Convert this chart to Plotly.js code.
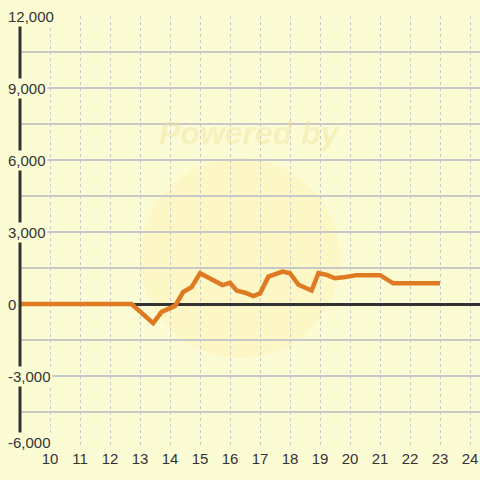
<!DOCTYPE html>
<html>
<head>
<meta charset="utf-8">
<script src="https://cdn.plot.ly/plotly-3.0.1.min.js"></script>
<style>
html,body{margin:0;padding:0;background:#FCFCD4;}
#chart{width:480px;height:480px;}
</style>
</head>
<body>
<div id="chart"></div>
<script>
// Data (hour of day, value)
const hours = [9, 10, 11, 12, 12.72, 13.44, 13.72, 14.17, 14.44, 14.72, 15.0, 15.75, 16.0, 16.22, 16.5, 16.78, 17.0, 17.28, 17.75, 18.0, 18.28, 18.72, 18.95, 19.2, 19.5, 19.78, 20.2, 21.0, 21.44, 22.0, 23.0];
const values = [0, 0, 0, 0, 0, -800, -330, -80, 500, 700, 1280, 790, 880, 560, 470, 330, 440, 1140, 1350, 1280, 800, 560, 1290, 1220, 1070, 1110, 1200, 1200, 860, 860, 860];
const xTickVals = [10, 11, 12, 13, 14, 15, 16, 17, 18, 19, 20, 21, 22, 23, 24];
const yLabelVals = [12000, 9000, 6000, 3000, 0, -3000, -6000];
const yGridVals = [12000, 10500, 9000, 7500, 6000, 4500, 3000, 1500, 0, -1500, -3000, -4500, -6000];

const BG = '#FCFCD4';
const FONT = 'Liberation Sans, Arial, sans-serif';

const trace = {
  x: hours, y: values, type: 'scatter', mode: 'lines',
  line: {color: '#E07A22', width: 4.5, shape: 'linear'},
  hoverinfo: 'skip'
};

const yMin = Math.min(...yLabelVals);
const annotations = yLabelVals.map(v => ({
  x: 0, xref: 'paper', y: v, yref: 'y',
  xanchor: 'left', yanchor: 'middle', xshift: -14,
  yshift: v === yMin ? 6 : 0,
  text: v.toLocaleString('en-US'), showarrow: false,
  font: {family: FONT, size: 15, color: '#333333'},
  bgcolor: BG, borderpad: 1
}));
annotations.push({
  x: 0.5, xref: 'paper', y: (448 - 133) / 432, yref: 'paper', yanchor: 'middle',
  text: '<b><i>Powered by</i></b>', showarrow: false,
  font: {family: FONT, size: 32, color: 'rgba(238,222,150,0.4)'}
});

const layout = {
  width: 480, height: 480,
  margin: {l: 20, r: 0, t: 16, b: 32, pad: 0},
  paper_bgcolor: BG, plot_bgcolor: BG,
  showlegend: false,
  font: {family: FONT, size: 15, color: '#333333'},
  xaxis: {
    range: [9, 24.333], tickvals: xTickVals, ticktext: xTickVals.map(String),
    showgrid: true, gridcolor: '#C8C8C8', gridwidth: 1, griddash: '3px,3px',
    zeroline: false, showline: false, ticks: '',
    tickfont: {family: FONT, size: 15, color: '#333333'}
  },
  yaxis: {
    range: [-6000, 12000], tickvals: yGridVals, showticklabels: false,
    showgrid: true, gridcolor: '#C8C8C8', gridwidth: 1.5,
    zeroline: true, zerolinecolor: '#333333', zerolinewidth: 3,
    showline: false, ticks: ''
  },
  shapes: [
    {type: 'circle', xref: 'x', yref: 'y', x0: 13.0, x1: 19.67, y0: -2250, y1: 6080,
     fillcolor: 'rgba(255,222,100,0.14)', line: {width: 0}, layer: 'below'},
    {type: 'line', xref: 'paper', yref: 'paper', x0: 0, x1: 0, y0: 0, y1: 1,
     line: {color: '#333333', width: 3}, layer: 'above'}
  ],
  annotations: annotations
};

Plotly.newPlot('chart', [trace], layout, {staticPlot: true, displayModeBar: false});
</script>
</body>
</html>
